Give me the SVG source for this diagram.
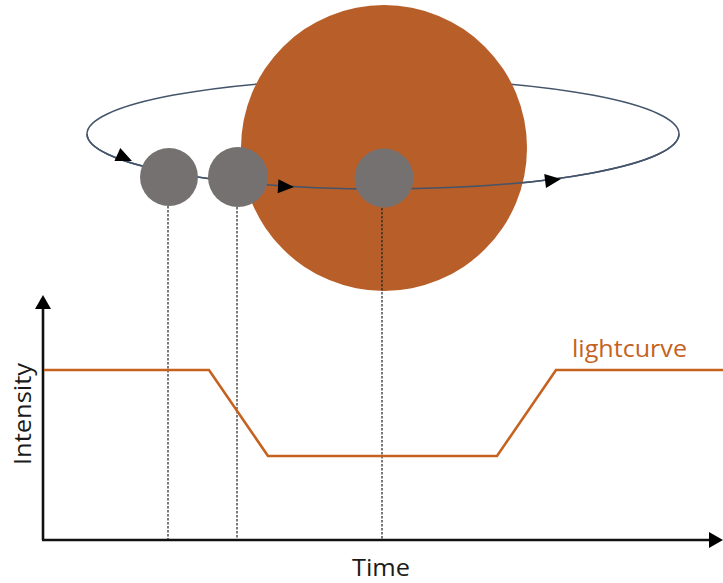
<svg xmlns="http://www.w3.org/2000/svg" width="723" height="583" viewBox="0 0 723 583">
  <style>
    .orbit { fill: none; stroke: #44546A; stroke-width: 1.5; }
    .planet { fill: #767171; }
    .drop { stroke: #222; stroke-width: 1.2; stroke-dasharray: 2.5 1.5; fill: none; }
    .axis { stroke: #111; stroke-width: 2.6; fill: none; }
    .head { fill: #000; }
    .curve { fill: none; stroke: #C5621F; stroke-width: 2.6; stroke-linejoin: miter; }
    .label { font-family: "Open Sans", "Liberation Sans", sans-serif; font-size: 24px; fill: #1a1a1a; }
  </style>

  <rect width="723" height="583" fill="#ffffff"/>

  <!-- far side of the orbit, partly hidden by the star -->
  <g id="orbit-back">
    <ellipse class="orbit" cx="383" cy="134" rx="296" ry="55"/>
  </g>

  <g id="star">
    <circle cx="384" cy="148" r="143" fill="#B85E28"/>
  </g>

  <!-- near side of the orbit, drawn in front of the star -->
  <g id="orbit-front">
    <path class="orbit" d="M 87 134 A 296 55 0 0 0 679 134"/>
    <polygon class="head" points="0,0 -16,-7 -16,7" transform="translate(132,161) rotate(24)"/>
    <polygon class="head" points="0,0 -16,-7 -16,7" transform="translate(294,187) rotate(3)"/>
    <polygon class="head" points="0,0 -16,-7 -16,7" transform="translate(561,179) rotate(-7)"/>
  </g>

  <g id="planet-1"><circle class="planet" cx="169" cy="177" r="29"/></g>
  <g id="planet-2"><circle class="planet" cx="238" cy="177" r="30"/></g>
  <g id="planet-3"><circle class="planet" cx="384" cy="178" r="29.5"/></g>

  <g id="connectors">
    <line class="drop" x1="168" y1="206" x2="168" y2="540"/>
    <line class="drop" x1="237" y1="207" x2="237" y2="540"/>
    <line class="drop" x1="382" y1="208" x2="382" y2="540"/>
  </g>

  <g id="axes">
    <line class="axis" x1="43" y1="306" x2="43" y2="540"/>
    <line class="axis" x1="42" y1="540" x2="710" y2="540"/>
    <polygon class="head" points="43,295 35,309 51,309"/>
    <polygon class="head" points="723,540 709,532 709,548"/>
  </g>

  <g id="lightcurve">
    <path class="curve" d="M 44 370 L 209 370 L 268 456 L 497 456 L 556 370 L 723 370"/>
    <text x="572" y="357" font-family="'Open Sans', 'Liberation Sans', sans-serif" font-size="24" fill="#C5621F" textLength="115" lengthAdjust="spacingAndGlyphs">lightcurve</text>
  </g>

  <g id="axis-labels">
    <text class="label" transform="translate(31,414) rotate(-90)" text-anchor="middle" textLength="102" lengthAdjust="spacingAndGlyphs">Intensity</text>
    <text class="label" x="381" y="576" text-anchor="middle" textLength="58" lengthAdjust="spacingAndGlyphs">Time</text>
  </g>
</svg>
